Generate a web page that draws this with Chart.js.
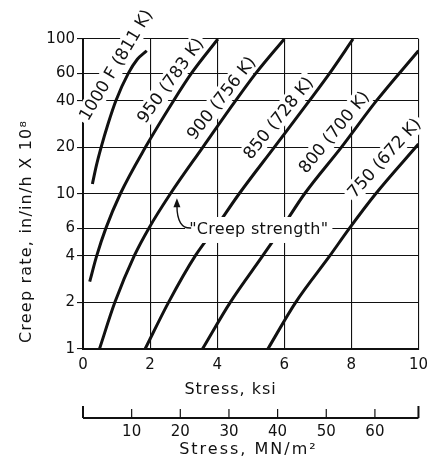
<!DOCTYPE html>
<html>
<head>
<meta charset="utf-8">
<script src="https://cdn.jsdelivr.net/npm/chart.js@4.4.0/dist/chart.umd.min.js"></script>
<style>
  html, body { margin: 0; padding: 0; background: #fff; }
</style>
</head>
<body>
<canvas id="creepChart" width="435" height="463"></canvas>
<script>
// stress in ksi, creep rate in in/in/h x 10^8
const stress1000 = [0.28, 0.4, 0.54, 0.75, 0.98, 1.35, 1.62, 1.9];
const rate1000   = [11.6, 15.3, 20, 28.5, 40, 60, 74, 84];
const stress950  = [0.2, 0.41, 0.68, 1.11, 1.86, 2.7, 3.23, 4.02];
const rate950    = [2.72, 4, 6, 10, 20, 40, 60, 100];
const stress900  = [0.49, 0.95, 1.53, 1.96, 2.6, 3.57, 4.55, 5.15, 6.0];
const rate900    = [1, 2, 4, 6, 10, 20, 40, 60, 100];
const stress850  = [1.85, 2.55, 3.35, 3.94, 4.65, 5.7, 6.75, 7.35, 8.05];
const rate850    = [1, 2, 4, 6, 10, 20, 40, 60, 100];
const stress800  = [3.56, 4.39, 5.36, 5.92, 6.6, 7.7, 8.75, 10];
const rate800    = [1, 2, 4, 6, 10, 20, 40, 84];
const stress750  = [5.51, 6.34, 7.36, 7.94, 8.72, 10];
const rate750    = [1, 2, 4, 6, 10, 21];

const curveNames = ['1000 F (811 K)', '950 (783 K)', '900 (756 K)', '850 (728 K)', '800 (700 K)', '750 (672 K)'];
const yTicks = [1, 2, 4, 6, 10, 20, 40, 60, 100];
const xTicks = [0, 2, 4, 6, 8, 10];
const mnTicks = [10, 20, 30, 40, 50, 60];
const KSI_TO_MN = 6.895;

// where the curve names sit (ksi, rate) and their slant
const labelAt = [[0.98, 68], [2.6, 54], [4.12, 41.6], [5.82, 30.9], [7.48, 25.1], [8.98, 17.1]];
const labelAngle = [59, 54, 52, 51, 50.5, 48];

const FONT = '"DejaVu Sans", sans-serif';
const INK = '#111';

function pairs(xs, ys) {
    return xs.map((v, i) => ({ x: v, y: ys[i] }));
}

const series = [
    pairs(stress1000, rate1000),
    pairs(stress950, rate950),
    pairs(stress900, rate900),
    pairs(stress850, rate850),
    pairs(stress800, rate800),
    pairs(stress750, rate750)
];

const extras = {
    id: 'extras',
    beforeDatasetsDraw(chart) {
        const { ctx, scales: { x, y } } = chart;
        ctx.save();
        ctx.font = '17px ' + FONT;
        ctx.textAlign = 'center';
        ctx.textBaseline = 'middle';
        curveNames.forEach((name, i) => {
            const px = x.getPixelForValue(labelAt[i][0]);
            const py = y.getPixelForValue(labelAt[i][1]);
            const w = ctx.measureText(name).width;
            ctx.save();
            ctx.translate(px, py);
            ctx.rotate(-labelAngle[i] * Math.PI / 180);
            ctx.fillStyle = '#fff';
            ctx.fillRect(-w / 2 - 3, -10, w + 6, 20);
            ctx.fillStyle = INK;
            ctx.fillText(name, 0, 1);
            ctx.restore();
        });
        ctx.restore();
    },
    afterDatasetsDraw(chart) {
        const { ctx, scales: { x, y } } = chart;
        ctx.save();
        // "Creep strength" note, sits over the curves
        const text = '"Creep strength"';
        ctx.font = '16px ' + FONT;
        ctx.letterSpacing = '0.3px';
        ctx.textAlign = 'center';
        ctx.textBaseline = 'middle';
        const cx = x.getPixelForValue(5.24), cy = y.getPixelForValue(5.86);
        const w = ctx.measureText(text).width;
        ctx.fillStyle = '#fff';
        ctx.fillRect(cx - w / 2 - 4, cy - 13, w + 8, 26);
        ctx.fillStyle = INK;
        ctx.fillText(text, cx, cy);

        // arrow to the 900 curve
        const x0 = cx - w / 2 + 2, y0 = cy - 2;
        const qx = x.getPixelForValue(2.8), qy = y.getPixelForValue(5.95);
        const ex = x.getPixelForValue(2.8), ey = y.getPixelForValue(9.1);
        ctx.strokeStyle = INK;
        ctx.lineWidth = 1.4;
        ctx.beginPath();
        ctx.moveTo(x0, y0);
        ctx.quadraticCurveTo(qx, qy, ex, ey + 5);
        ctx.stroke();
        ctx.beginPath();
        ctx.moveTo(ex, ey - 2);
        ctx.lineTo(ex - 3.5, ey + 7);
        ctx.lineTo(ex + 3.5, ey + 7);
        ctx.closePath();
        ctx.fillStyle = INK;
        ctx.fill();
        ctx.restore();
    },
    afterDraw(chart) {
        const { ctx, chartArea, scales: { x } } = chart;
        ctx.save();
        ctx.fillStyle = INK;
        ctx.strokeStyle = INK;
        ctx.textAlign = 'center';
        ctx.textBaseline = 'middle';
        ctx.font = '16px ' + FONT;
        ctx.letterSpacing = '1px';
        ctx.fillText('Stress, ksi', x.getPixelForValue(4.4), chartArea.bottom + 41);

        // y axis title
        ctx.save();
        ctx.translate(27, chartArea.bottom - 6);
        ctx.rotate(-Math.PI / 2);
        ctx.textAlign = 'left';
        ctx.letterSpacing = '1.2px';
        ctx.fillText('Creep rate, in/in/h X 10⁸', 0, 0);
        ctx.restore();

        // second stress scale in MN/m2
        const base = chartArea.bottom + 69;
        const left = x.getPixelForValue(0), right = x.getPixelForValue(10);
        ctx.lineWidth = 2;
        ctx.beginPath();
        ctx.moveTo(left, base);
        ctx.lineTo(right, base);
        ctx.moveTo(left, base);
        ctx.lineTo(left, base - 12);
        ctx.moveTo(right, base);
        ctx.lineTo(right, base - 12);
        ctx.stroke();
        ctx.lineWidth = 1.2;
        ctx.font = '15px ' + FONT;
        ctx.letterSpacing = '0px';
        mnTicks.forEach(v => {
            const px = x.getPixelForValue(v / KSI_TO_MN);
            ctx.beginPath();
            ctx.moveTo(px, base);
            ctx.lineTo(px, base - 9);
            ctx.stroke();
            ctx.fillText(String(v), px, base + 14);
        });
        ctx.font = '16px ' + FONT;
        ctx.letterSpacing = '2px';
        ctx.fillText('Stress, MN/m²', x.getPixelForValue(4.93), base + 32);
        ctx.restore();
    }
};

new Chart(document.getElementById('creepChart').getContext('2d'), {
    type: 'scatter',
    data: {
        datasets: series.map((pts, i) => ({
            label: curveNames[i],
            data: pts,
            showLine: true,
            borderColor: INK,
            borderWidth: 3,
            pointRadius: 0,
            cubicInterpolationMode: 'monotone',
            fill: false
        }))
    },
    options: {
        responsive: false,
        animation: false,
        devicePixelRatio: 1,
        layout: { padding: { top: 39, right: 9, bottom: 0, left: 0 } },
        plugins: {
            legend: { display: false },
            tooltip: { enabled: false }
        },
        scales: {
            x: {
                type: 'linear',
                min: 0,
                max: 10,
                afterBuildTicks: s => { s.ticks = xTicks.map(v => ({ value: v })); },
                afterFit: s => { s.height = 114; },
                ticks: { color: INK, font: { family: FONT, size: 15 }, padding: 7, autoSkip: false, maxRotation: 0 },
                grid: { color: INK, lineWidth: 1.1, drawTicks: false },
                border: { color: INK, width: 2 }
            },
            y: {
                type: 'logarithmic',
                min: 1,
                max: 100,
                afterBuildTicks: s => { s.ticks = yTicks.map(v => ({ value: v })); },
                afterFit: s => { s.width = 83; },
                ticks: {
                    color: INK,
                    font: { family: FONT, size: 15 },
                    padding: 2,
                    autoSkip: false,
                    callback: v => String(v)
                },
                grid: { color: INK, lineWidth: 1.1, tickLength: 6 },
                border: { color: INK, width: 2 }
            }
        }
    },
    plugins: [extras]
});
</script>
</body>
</html>
